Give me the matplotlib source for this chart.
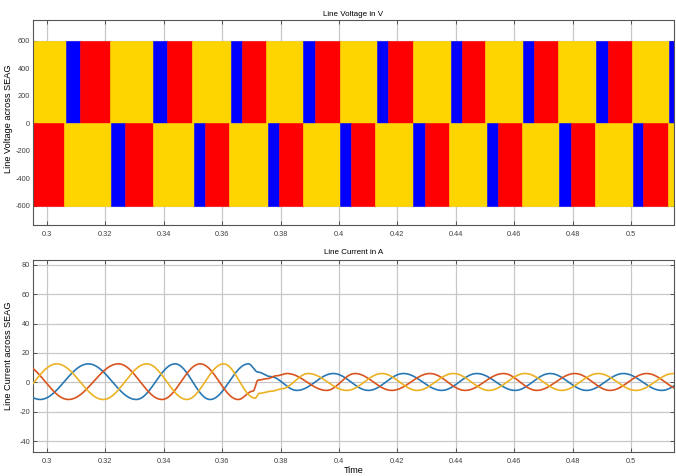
import numpy as np
import matplotlib.pyplot as plt

# ---- top panel: line voltages (PWM is so dense the scope shows solid blocks) ----
# block edges (s) in the upper half (0..+600) and the phase that is on top in each block
pos_edges = [0.2954, 0.3065, 0.3114, 0.3217, 0.3365, 0.3411, 0.3498, 0.3630, 0.3668,
             0.3751, 0.3878, 0.3918, 0.4002, 0.4130, 0.4169, 0.4253, 0.4382, 0.4421,
             0.4500, 0.4629, 0.4669, 0.4749, 0.4880, 0.4920, 0.5002, 0.5131, 0.5160]
pos_phase = list("ABCABCABCABCABCABCABCABCAB")
# lower half (0..-600)
neg_edges = [0.2954, 0.3060, 0.3220, 0.3269, 0.3363, 0.3504, 0.3542, 0.3625, 0.3757,
             0.3796, 0.3876, 0.4004, 0.4042, 0.4125, 0.4255, 0.4295, 0.4378, 0.4506,
             0.4544, 0.4626, 0.4755, 0.4795, 0.4877, 0.5006, 0.5042, 0.5126, 0.5160]
neg_phase = list("CABCABCABCABCABCABCABCABCA")
v_dc = 600

# ---- bottom panel: phase currents, extrema / turning points ----
ia_t = [0.2812, 0.2977, 0.3142, 0.3306, 0.3439, 0.3559, 0.3690, 0.3723, 0.3764, 0.3856,
        0.3981, 0.4101, 0.4221, 0.4352, 0.4472, 0.4603, 0.4723, 0.4848, 0.4974, 0.5105, 0.5225]
ia_v = [12.6, -11.7, 12.6, -11.7, 12.6, -11.7, 12.6, 7.0, 4.0, -5.5,
        6.0, -5.5, 6.0, -5.5, 6.0, -5.5, 6.0, -5.5, 6.0, -5.5, 6.0]
ib_t = [0.2915, 0.3074, 0.3245, 0.3394, 0.3525, 0.3655, 0.3706, 0.3723, 0.3754, 0.3787, 0.3822,
        0.3958, 0.4055, 0.4181, 0.4312, 0.4432, 0.4563, 0.4677, 0.4808, 0.4928, 0.5054, 0.5178]
ib_v = [12.6, -11.7, 12.6, -11.7, 12.6, -11.7, -6.0, 1.5, 2.5, 4.5, 6.0,
        -5.5, 6.0, -5.5, 6.0, -5.5, 6.0, -5.5, 6.0, -5.5, 6.0, -5.5]
ic_t = [0.2881, 0.3034, 0.3193, 0.3342, 0.3479, 0.3605, 0.3713, 0.3727, 0.3771, 0.3802, 0.3895,
        0.4027, 0.4147, 0.4268, 0.4392, 0.4514, 0.4637, 0.4763, 0.4888, 0.5017, 0.5145, 0.5270]
ic_v = [-11.7, 12.6, -11.7, 12.6, -11.7, 12.6, -10.8, -7.5, -6.0, -4.5, 6.0,
        -5.5, 6.0, -5.5, 6.0, -5.5, 6.0, -5.5, 6.0, -5.5, 6.0, -5.5]

vcol = {"A": "#FFD500", "B": "#0000FF", "C": "#FF0000"}
icol = ["#2878b5", "#d9541e", "#ecb224"]


def smooth(t_nodes, v_nodes, n=40):
    # half-cosine between the read turning points so the waves look like the scope trace
    ts, vs = [], []
    for t0, t1, v0, v1 in zip(t_nodes[:-1], t_nodes[1:], v_nodes[:-1], v_nodes[1:]):
        s = np.linspace(0, 1, n, endpoint=False)
        ts.append(t0 + (t1 - t0) * s)
        vs.append(v0 + (v1 - v0) * (1 - np.cos(np.pi * s)) / 2)
    ts.append([t_nodes[-1]])
    vs.append([v_nodes[-1]])
    return np.concatenate(ts), np.concatenate(vs)


plt.rcParams['font.family'] = ['Liberation Sans', 'DejaVu Sans']
plt.rcParams['axes.unicode_minus'] = False

fig = plt.figure(figsize=(6.76, 4.76), dpi=100)
ax1 = fig.add_axes([0.049, 0.527, 0.948, 0.431])
ax2 = fig.add_axes([0.049, 0.0504, 0.948, 0.4034])

for edges, phases, h in [(pos_edges, pos_phase, v_dc), (neg_edges, neg_phase, -v_dc)]:
    left = np.array(edges[:-1])
    w = np.diff(edges)
    cols = [vcol[p] for p in phases]
    ax1.bar(left, h, width=w, align='edge', color=cols, edgecolor=cols, linewidth=0.4, zorder=2)

for t, v, c in [(ia_t, ia_v, icol[0]), (ib_t, ib_v, icol[1]), (ic_t, ic_v, icol[2])]:
    x, y = smooth(t, v)
    ax2.plot(x, y, color=c, lw=1.2, zorder=3)

xt = np.arange(0.30, 0.5001, 0.02)
for ax in (ax1, ax2):
    ax.set_xlim(0.2953, 0.5147)
    ax.set_xticks(xt)
    ax.set_xticklabels([f"{v:g}" for v in np.round(xt, 2)])
    ax.grid(True, color='#c8c8c8', lw=0.9)
    ax.set_axisbelow(True)
    ax.tick_params(direction='in', length=3, width=0.6, labelsize=5.3, colors='#404040',
                   top=True, right=True)
    ax.tick_params(axis='x', pad=4)
    ax.tick_params(axis='y', pad=2)
    for s in ax.spines.values():
        s.set_color('#555555')
        s.set_linewidth(0.8)

ax1.set_ylim(-739, 750)
ax1.set_yticks(np.arange(-600, 601, 200))
ax1.set_title("Line Voltage in V", fontsize=5.8, pad=3)
ax1.set_ylabel("Line Voltage across SEAG", fontsize=6.6)
ax1.yaxis.set_label_coords(-0.031, 0.52)

ax2.set_ylim(-47.5, 83.4)
ax2.set_yticks(np.arange(-40, 81, 20))
ax2.set_title("Line Current in A", fontsize=5.8, pad=4)
ax2.set_ylabel("Line Current across SEAG", fontsize=6.6)
ax2.yaxis.set_label_coords(-0.031, 0.5)
ax2.set_xlabel("Time", fontsize=6.5, labelpad=1)

fig.savefig("out.png", dpi=100)
